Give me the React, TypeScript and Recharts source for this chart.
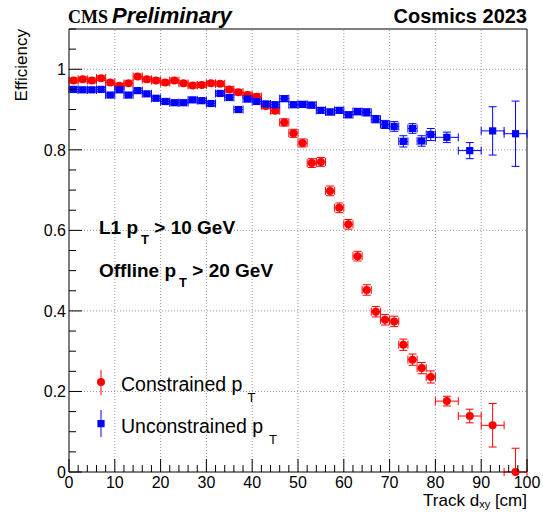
import { ComposedChart, Scatter, XAxis, YAxis, ErrorBar, ReferenceLine } from "recharts"

// bin centres (cm) and half widths
const binCenters = [
  1, 3, 5, 7, 9, 11, 13, 15, 17, 19, 21, 23, 25, 27, 29, 31, 33, 35, 37, 39,
  41, 43, 45, 47, 49, 51, 53, 55, 57, 59, 61, 63, 65, 67, 69, 71, 73, 75, 77, 79,
  82.5, 87.5, 92.5, 97.5,
]
const binHalfWidths = [
  1, 1, 1, 1, 1, 1, 1, 1, 1, 1, 1, 1, 1, 1, 1, 1, 1, 1, 1, 1,
  1, 1, 1, 1, 1, 1, 1, 1, 1, 1, 1, 1, 1, 1, 1, 1, 1, 1, 1, 1,
  2.5, 2.5, 2.5, 2.5,
]

const constrainedEff = [
  0.972, 0.975, 0.972, 0.978, 0.967, 0.959, 0.965, 0.982, 0.975, 0.972,
  0.967, 0.972, 0.965, 0.96, 0.961, 0.965, 0.964, 0.95, 0.943, 0.936,
  0.932, 0.909, 0.897, 0.868, 0.841, 0.817, 0.767, 0.77, 0.698, 0.656,
  0.615, 0.536, 0.452, 0.398, 0.378, 0.374, 0.316, 0.279, 0.258, 0.236,
  0.176, 0.139, 0.116, 0.0,
]
const constrainedErr: (number | number[])[] = [
  0.006, 0.006, 0.006, 0.006, 0.006, 0.006, 0.006, 0.006, 0.006, 0.006,
  0.006, 0.006, 0.006, 0.006, 0.006, 0.006, 0.006, 0.007, 0.007, 0.007,
  0.007, 0.007, 0.007, 0.009, 0.01, 0.01, 0.011, 0.011, 0.012, 0.012,
  0.012, 0.012, 0.013, 0.013, 0.013, 0.013, 0.014, 0.014, 0.014, 0.015,
  0.012, 0.017, 0.054, [0, 0.059],
]

const unconstrainedEff = [
  0.95, 0.949, 0.949, 0.95, 0.936, 0.949, 0.936, 0.947, 0.939, 0.928,
  0.92, 0.917, 0.917, 0.924, 0.922, 0.915, 0.94, 0.93, 0.9, 0.926,
  0.92, 0.914, 0.912, 0.927, 0.912, 0.913, 0.911, 0.898, 0.894, 0.898,
  0.887, 0.895, 0.893, 0.876, 0.863, 0.858, 0.821, 0.853, 0.822, 0.838,
  0.831, 0.798, 0.847, 0.84,
]
const unconstrainedErr = [
  0.005, 0.005, 0.005, 0.005, 0.005, 0.005, 0.005, 0.005, 0.005, 0.005,
  0.005, 0.005, 0.005, 0.005, 0.005, 0.005, 0.005, 0.006, 0.006, 0.006,
  0.006, 0.006, 0.006, 0.007, 0.007, 0.007, 0.007, 0.007, 0.007, 0.007,
  0.007, 0.008, 0.009, 0.009, 0.01, 0.012, 0.014, 0.012, 0.013, 0.015,
  0.013, 0.02, 0.06, 0.081,
]

const xTicks = [
  0, 2, 4, 6, 8, 10, 12, 14, 16, 18, 20, 22, 24, 26, 28, 30, 32, 34, 36, 38, 40,
  42, 44, 46, 48, 50, 52, 54, 56, 58, 60, 62, 64, 66, 68, 70, 72, 74, 76, 78, 80,
  82, 84, 86, 88, 90, 92, 94, 96, 98, 100,
]
const xGrid = [10, 20, 30, 40, 50, 60, 70, 80, 90]
const yTicks = [
  0, 0.05, 0.1, 0.15, 0.2, 0.25, 0.3, 0.35, 0.4, 0.45, 0.5, 0.55, 0.6, 0.65,
  0.7, 0.75, 0.8, 0.85, 0.9, 0.95, 1, 1.05, 1.1,
]
const yGrid = [0.2, 0.4, 0.6, 0.8, 1]

const constrained = binCenters.map((x, i) => ({
  x,
  y: constrainedEff[i],
  ex: binHalfWidths[i],
  ey: constrainedErr[i],
}))
const unconstrained = binCenters.map((x, i) => ({
  x,
  y: unconstrainedEff[i],
  ex: binHalfWidths[i],
  ey: unconstrainedErr[i],
}))

const FONT = "'Liberation Sans', Arial, Helvetica, sans-serif"
const RED = "#ff0000"
const BLUE = "#0000ff"

function XTick(props: any) {
  const { x, y, payload } = props
  const major = payload.value % 10 === 0
  return (
    <g>
      <line x1={x} x2={x} y1={y} y2={y - (major ? 13 : 7)} stroke="#000" />
      {major && (
        <text x={x} y={y + 16} textAnchor="middle" fontSize={16} fontFamily={FONT} fill="#000">
          {payload.value}
        </text>
      )}
    </g>
  )
}

function YTick(props: any) {
  const { x, y, payload } = props
  const r = payload.value / 0.2
  const major = Math.abs(r - Math.round(r)) < 1e-6
  return (
    <g>
      <line x1={x} x2={x + (major ? 13 : 7)} y1={y} y2={y} stroke="#000" />
      {major && (
        <text x={x - 3} y={y + 6} textAnchor="end" fontSize={16} fontFamily={FONT} fill="#000">
          {payload.value}
        </text>
      )}
    </g>
  )
}

const RedDot = (p: any) => <circle cx={p.cx} cy={p.cy} r={4} fill={RED} />
const BlueSquare = (p: any) => (
  <rect x={p.cx - 3.6} y={p.cy - 3.6} width={7.2} height={7.2} fill={BLUE} />
)

export default function App() {
  return (
    <div style={{ position: "absolute", left: 0, top: 0, width: 543, height: 512, background: "#fff" }}>
      <ComposedChart width={543} height={512} margin={{ top: 29, right: 16, bottom: 10, left: 9 }}>
        <XAxis
          type="number"
          dataKey="x"
          domain={[0, 100]}
          ticks={xTicks}
          interval={0}
          tick={<XTick />}
          tickSize={0}
          tickMargin={0}
          tickLine={false}
          axisLine={{ stroke: "#000" }}
          height={30}
        />
        <YAxis
          type="number"
          dataKey="y"
          domain={[0, 1.1]}
          ticks={yTicks}
          interval={0}
          tick={<YTick />}
          tickSize={0}
          tickMargin={0}
          tickLine={false}
          axisLine={{ stroke: "#000" }}
          width={60}
        />
        {xGrid.map((v) => (
          <ReferenceLine key={"gx" + v} x={v} stroke="#999" strokeDasharray="1 2" />
        ))}
        {yGrid.map((v) => (
          <ReferenceLine key={"gy" + v} y={v} stroke="#999" strokeDasharray="1 2" />
        ))}
        <ReferenceLine x={100} stroke="#000" />
        <ReferenceLine y={1.1} stroke="#000" />
        <Scatter data={constrained} dataKey="y" shape={RedDot} isAnimationActive={false}>
          <ErrorBar dataKey="ey" direction="y" width={4} stroke={RED} strokeWidth={1} />
          <ErrorBar dataKey="ex" direction="x" width={4} stroke={RED} strokeWidth={1} />
        </Scatter>
        <Scatter data={unconstrained} dataKey="y" shape={BlueSquare} isAnimationActive={false}>
          <ErrorBar dataKey="ey" direction="y" width={4} stroke={BLUE} strokeWidth={1} />
          <ErrorBar dataKey="ex" direction="x" width={4} stroke={BLUE} strokeWidth={1} />
        </Scatter>
      </ComposedChart>
      <svg
        width={543}
        height={512}
        style={{ position: "absolute", left: 0, top: 0, pointerEvents: "none" }}
        fontFamily={FONT}
      >
        <text x={68} y={23} fontSize={18} fontWeight="bold" fontFamily="'Liberation Serif', 'Times New Roman', serif">
          CMS
        </text>
        <text x={112} y={23} fontSize={22} fontWeight="bold" fontStyle="italic">
          Preliminary
        </text>
        <text x={527} y={23} fontSize={20} fontWeight="bold" textAnchor="end">
          Cosmics 2023
        </text>
        <text x={27} y={29} fontSize={17} textAnchor="end" transform="rotate(-90 27 29)">
          Efficiency
        </text>
        <text x={527} y={506} fontSize={17} textAnchor="end">
          Track d<tspan dy={2} fontSize={11}>xy</tspan>
          <tspan dy={-2}> [cm]</tspan>
        </text>
        <text x={99} y={234} fontSize={19} fontWeight="bold">
          L1 p<tspan dx={3} dy={10} fontSize={13}>T</tspan>
          <tspan dy={-10}> &gt; 10 GeV</tspan>
        </text>
        <text x={99} y={277} fontSize={19} fontWeight="bold">
          Offline p<tspan dx={3} dy={10} fontSize={13}>T</tspan>
          <tspan dy={-10}> &gt; 20 GeV</tspan>
        </text>
        <line x1={101} x2={101} y1={370} y2={395} stroke={RED} />
        <circle cx={101} cy={382} r={4} fill={RED} />
        <text x={121} y={391} fontSize={19.5}>
          Constrained p<tspan dx={5} dy={11} fontSize={13}>T</tspan>
        </text>
        <line x1={101} x2={101} y1={410} y2={437} stroke={BLUE} />
        <rect x={97.4} y={420} width={7.2} height={7.2} fill={BLUE} />
        <text x={121} y={433} fontSize={19.5}>
          Unconstrained p<tspan dx={6} dy={11} fontSize={13}>T</tspan>
        </text>
      </svg>
    </div>
  )
}
